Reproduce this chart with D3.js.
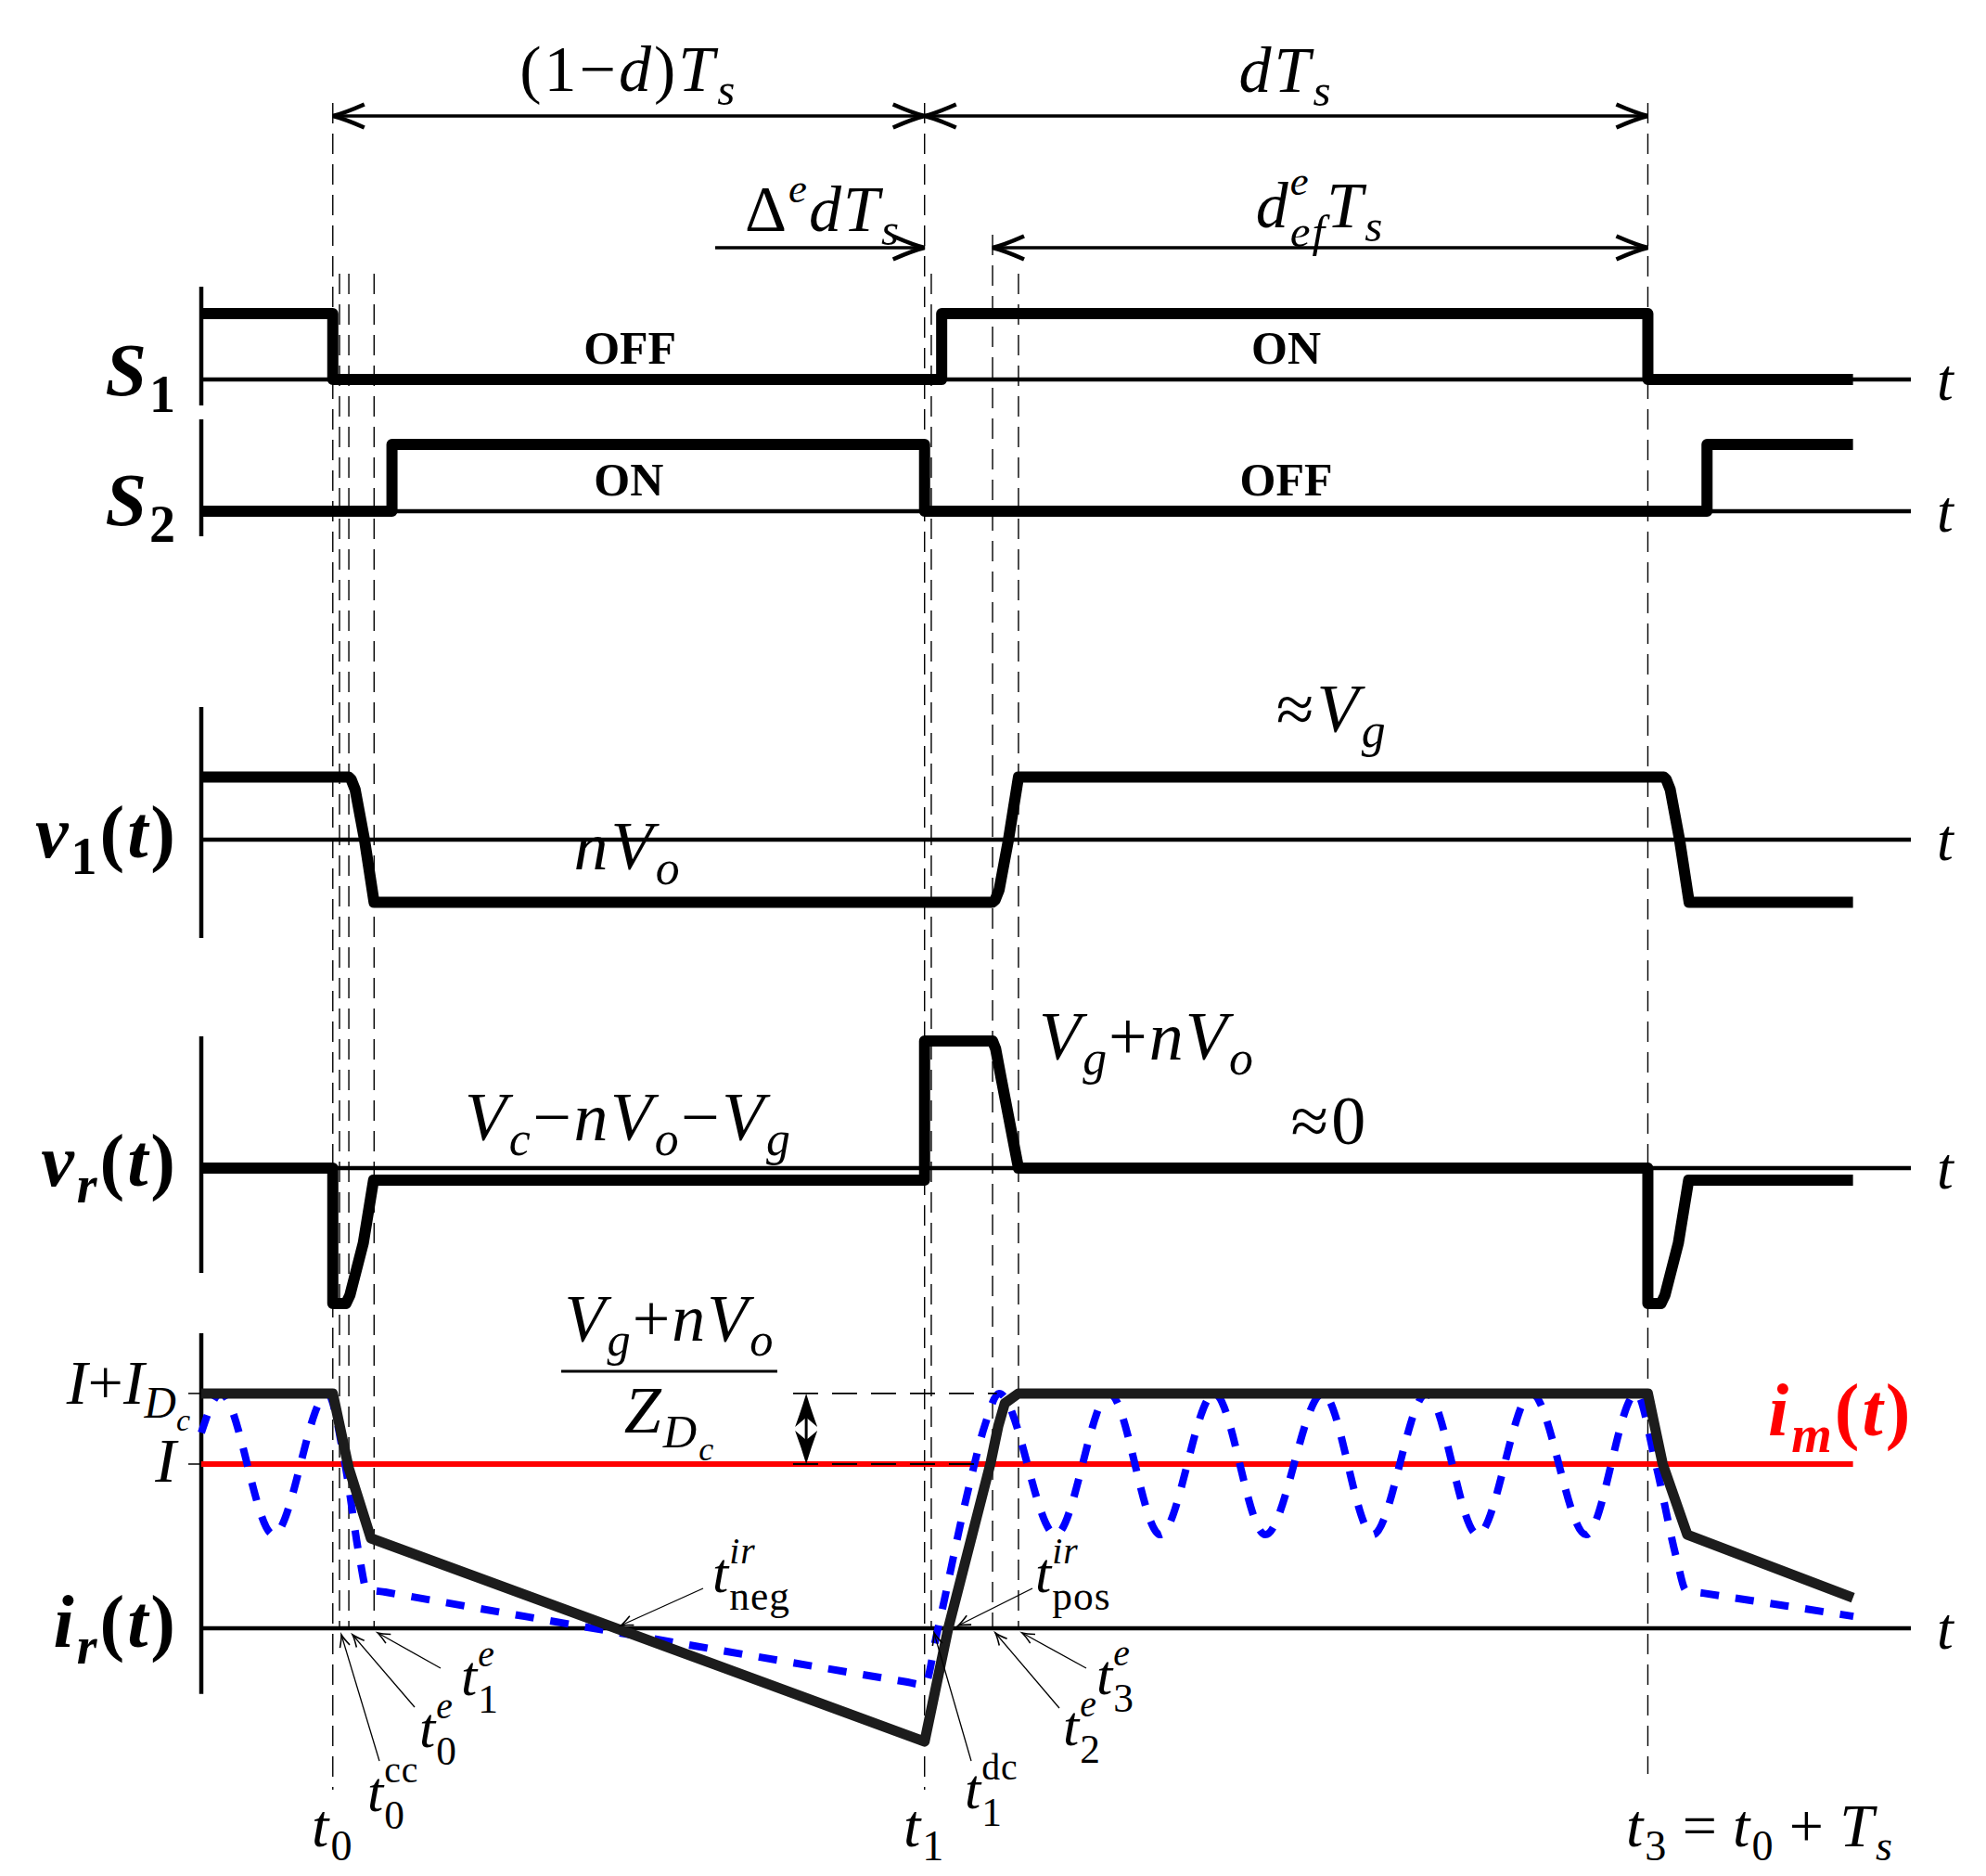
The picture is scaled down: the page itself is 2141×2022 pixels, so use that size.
<!DOCTYPE html>
<html>
<head>
<meta charset="utf-8">
<script src="https://cdn.jsdelivr.net/npm/d3@7/dist/d3.min.js"></script>
<style>
  body { margin: 0; background: #fff; }
</style>
</head>
<body>
<div id="chart"></div>
<script>
// time axis: tenths of Ts, t0 = 0, t3 = t0 + Ts = 10
const markNames = ['t0', 't0cc', 't0e', 't1e', 't1', 't1dc', 't2e', 't3e', 't3'];
const markTimes = [0, 0.051, 0.122, 0.314, 4.5, 4.551, 5.017, 5.214, 10];

// gate signals (0 = off, 1 = on)
const s1Time = [-1, 0, 0, 4.63, 4.63, 10, 10, 11.56];
const s1Val  = [1, 1, 0, 0, 1, 1, 0, 0];
const s2Time = [-1, 0.45, 0.45, 4.5, 4.5, 10.45, 10.45, 11.56];
const s2Val  = [0, 0, 1, 1, 0, 0, 1, 1];

// v1(t): +1 ~ Vg, -1 ~ -nVo
const v1Time = [-1, 0.122, 0.14, 0.17, 0.241, 0.314, 5.017, 5.037, 5.067, 5.138, 5.214, 10.122, 10.14, 10.17, 10.241, 10.314, 11.56];
const v1Val  = [1, 1, 0.96, 0.8, 0, -1, -1, -0.96, -0.8, 0, 1, 1, 0.96, 0.8, 0, -1, -1];

// vr(t): 1 = Vg+nVo
const vrTime = [-1, 0, 0, 0.1, 0.13, 0.232, 0.31, 4.5, 4.5, 5.017, 5.04, 5.08, 5.214, 10, 10, 10.1, 10.13, 10.232, 10.31, 11.56];
const vrVal  = [0, 0, -1.066, -1.066, -1.0, -0.59, -0.095, -0.095, 1, 1, 0.94, 0.72, 0, 0, -1.066, -1.066, -1.0, -0.59, -0.095, -0.095];

// ir(t), in units of I
const irTime = [-1, 0, 0.12, 0.29, 4.5, 4.68, 5.0, 5.06, 5.11, 5.214, 10, 10.113, 10.3, 11.56];
const irVal  = [1.43, 1.43, 0.98, 0.548, -0.69, 0, 1.0, 1.23, 1.37, 1.43, 1.43, 1.0, 0.57, 0.186];

// blue dashed current (with oscillation)
const irdTime = [-1, -0.852, -0.45, -0.041, 0.093, 0.206, 0.256, 0.4, 4.35, 4.5, 4.594, 4.84, 4.96, 5.066, 5.497, 5.906, 6.293, 6.703, 7.091, 7.528, 7.909, 8.318, 8.706, 9.115, 9.531, 9.912, 10.06, 10.22, 10.29, 10.42, 11.563];
const irdVal  = [1.19, 1.43, 0.57, 1.43, 1.0, 0.42, 0.24, 0.22, -0.325, -0.345, -0.03, 0.87, 1.24, 1.43, 0.57, 1.43, 0.57, 1.43, 0.57, 1.43, 0.57, 1.43, 0.57, 1.43, 0.57, 1.43, 1.0, 0.42, 0.23, 0.214, 0.073];

// magnetizing current i_m(t) = I
const imTime = [-1, 11.56];
const imVal  = [1, 1];

// ir axis ticks
const irTickVals = [1.43, 1];

const FONT = "'Liberation Serif','Times New Roman',serif";
const W = 2141, H = 2022;

const svg = d3.select('#chart').append('svg')
  .attr('width', W).attr('height', H)
  .style('background', '#fff');

const x = d3.scaleLinear().domain([-1, 12]).range([217, 2060]);
const yS1 = d3.scaleLinear().domain([0, 1]).range([409, 338]);
const yS2 = d3.scaleLinear().domain([0, 1]).range([551, 479]);
const yV1 = d3.scaleLinear().domain([-1, 1]).range([972.5, 837.5]);
const yVr = d3.scaleLinear().domain([0, 1]).range([1259, 1122]);
const yIr = d3.scaleLinear().domain([0, 1]).range([1755, 1578]);

const zip = (T, V) => T.map((t, i) => [t, V[i]]);
const lineFor = (ys, curve) => d3.line()
  .x(d => x(d[0])).y(d => ys(d[1]))
  .curve(curve || d3.curveLinear);

// math-ish text with sub/superscripts
function mtext(g, px, py, parts, o) {
  const fs = o.size;
  const t = g.append('text')
    .attr('x', px).attr('y', py)
    .attr('text-anchor', o.anchor || 'start')
    .attr('font-family', FONT)
    .attr('font-weight', o.bold ? 'bold' : 'normal')
    .attr('letter-spacing', o.ls || 0)
    .attr('fill', o.color || '#000');
  let cur = 0;
  function span(str, kind, dx, stacked) {
    let size = fs, off = 0;
    if (kind.startsWith('__')) { size = fs * 0.5; off = fs * 0.42; }
    else if (kind[0] === '_') { size = fs * 0.7; off = fs * (stacked ? 0.3 : 0.22); }
    else if (kind[0] === '^') { size = fs * 0.64; off = -fs * (stacked ? 0.5 : 0.45); }
    const it = kind.slice(-1) === 'i';
    const s = t.append('tspan').text(str)
      .attr('font-size', size)
      .attr('font-style', it ? 'italic' : 'normal')
      .attr('dy', off - cur);
    if (dx) s.attr('dx', dx);
    cur = off;
    return s;
  }
  parts.forEach(p => {
    if (p.length === 4) {
      const a = span(p[0], p[1], 0, true);
      const w = a.node().getComputedTextLength();
      span(p[2], p[3], -w, true);
    } else span(p[0], p[1]);
  });
  return t;
}

// curved chevron arrow tip
function chevron(g, px, py, deg, len, half, sw) {
  g.append('path')
    .attr('d', `M${-len},${half} Q${-len * 0.35},${half * 0.22} 0,0 Q${-len * 0.35},${-half * 0.22} ${-len},${-half}`)
    .attr('transform', `translate(${px},${py}) rotate(${deg})`)
    .attr('fill', 'none').attr('stroke', '#000')
    .attr('stroke-width', sw).attr('stroke-linejoin', 'miter');
}
function stealth(g, px, py, deg, len, half) {
  g.append('path')
    .attr('d', `M0,0 Q${-len * 0.5},${half * 0.45} ${-len},${half} L${-len * 0.72},0 L${-len},${-half} Q${-len * 0.5},${-half * 0.45} 0,0Z`)
    .attr('transform', `translate(${px},${py}) rotate(${deg})`)
    .attr('fill', '#000');
}

// ---------- dashed time markers ----------
const gDash = svg.append('g');
const markSpan = {
  t0: [111, 1929], t1: [111, 1929], t3: [111, 1912], t2e: [253, yIr(0)]
};
markNames.forEach((n, i) => {
  const sp = markSpan[n] || [295, yIr(0)];
  gDash.append('line')
    .attr('x1', x(markTimes[i])).attr('x2', x(markTimes[i]))
    .attr('y1', sp[0]).attr('y2', sp[1])
    .attr('stroke', '#000').attr('stroke-width', 1.4)
    .attr('stroke-dasharray', '22,11');
});
const T = n => markTimes[markNames.indexOf(n)];

// ---------- panels ----------
const panels = [
  { ys: yS1, ext: [-0.394, 1.408], label: [['S', 'i'], ['1', '_r']], ly: 426 },
  { ys: yS2, ext: [-0.375, 1.375], label: [['S', 'i'], ['2', '_r']], ly: 566 },
  { ys: yV1, ext: [-1.57, 2.12], label: [['v', 'i'], ['1', '_r'], ['(', 'r'], ['t', 'i'], [')', 'r']], ly: 924 },
  { ys: yVr, ext: [-0.825, 1.036], label: [['v', 'i'], ['r', '_i'], ['(', 'r'], ['t', 'i'], [')', 'r']], ly: 1278 },
  { ys: yIr, ext: [-0.40, 1.797], label: [['i', 'i'], ['r', '_i'], ['(', 'r'], ['t', 'i'], [')', 'r']], ly: 1775 }
];
const gAx = svg.append('g');
panels.forEach(p => {
  gAx.append('line')
    .attr('x1', x(-1)).attr('x2', x(-1))
    .attr('y1', p.ys(p.ext[0])).attr('y2', p.ys(p.ext[1]))
    .attr('stroke', '#000').attr('stroke-width', 4.5);
  gAx.append('line')
    .attr('x1', x(-1)).attr('x2', x(12))
    .attr('y1', p.ys(0)).attr('y2', p.ys(0))
    .attr('stroke', '#000').attr('stroke-width', 4.5);
  mtext(gAx, x(12) + 28, p.ys(0) + 22, [['t', 'i']], { size: 64 });
  mtext(gAx, 192, p.ly, p.label, { size: 80, bold: true, anchor: 'end', ls: 3 });
});

// ir ticks
irTickVals.forEach(v => {
  gAx.append('line')
    .attr('x1', x(-1) - 14).attr('x2', x(-1))
    .attr('y1', yIr(v)).attr('y2', yIr(v))
    .attr('stroke', '#000').attr('stroke-width', 1.5);
});
mtext(gAx, 205, 1513, [['I', 'i'], ['+', 'r'], ['I', 'i'], ['D', '_i'], ['c', '__i']], { size: 68, anchor: 'end' });
mtext(gAx, 190, 1597, [['I', 'i']], { size: 68, anchor: 'end' });

// ---------- waveforms ----------
const gW = svg.append('g').attr('fill', 'none');
const thick = (d, ys, color, w) => gW.append('path')
  .attr('d', lineFor(ys)(d))
  .attr('stroke', color).attr('stroke-width', w)
  .attr('stroke-linejoin', 'round');

thick(zip(s1Time, s1Val), yS1, '#000', 12);
thick(zip(s2Time, s2Val), yS2, '#000', 12);
thick(zip(v1Time, v1Val), yV1, '#000', 12);
thick(zip(vrTime, vrVal), yVr, '#000', 12);

// red i_m
gW.append('path').attr('d', lineFor(yIr)(zip(imTime, imVal)))
  .attr('stroke', '#ff0000').attr('stroke-width', 6);

// blue dashed
gW.append('path').attr('d', lineFor(yIr, d3.curveMonotoneX)(zip(irdTime, irdVal)))
  .attr('stroke', '#0000ff').attr('stroke-width', 8)
  .attr('stroke-dasharray', '20,18');

// ZDc guides
const gG = svg.append('g');
[[1.43, 3.5, 5.05], [1, 3.5, 4.9]].forEach(r => {
  gG.append('line')
    .attr('x1', x(r[1])).attr('x2', x(r[2]))
    .attr('y1', yIr(r[0])).attr('y2', yIr(r[0]))
    .attr('stroke', '#000').attr('stroke-width', 1.8)
    .attr('stroke-dasharray', '27,15');
});

// black ir
thick(zip(irTime, irVal), yIr, '#1c1c1c', 11);

// double arrow
const dax = x(3.6);
gG.append('line').attr('x1', dax).attr('x2', dax)
  .attr('y1', yIr(1.43) + 10).attr('y2', yIr(1) - 10)
  .attr('stroke', '#000').attr('stroke-width', 3);
stealth(gG, dax, yIr(1.43), -90, 36, 12);
stealth(gG, dax, yIr(1), 90, 36, 12);

// fraction
mtext(gG, x(2.562), 1445, [['V', 'i'], ['g', '_i'], ['+', 'r'], ['nV', 'i'], ['o', '_i']], { size: 72, anchor: 'middle', ls: 2 });
gG.append('line').attr('x1', x(1.737)).attr('x2', x(3.38))
  .attr('y1', 1478).attr('y2', 1478)
  .attr('stroke', '#000').attr('stroke-width', 3);
mtext(gG, x(2.562), 1544, [['Z', 'i'], ['D', '_i'], ['c', '__i']], { size: 72, anchor: 'middle', ls: 2 });

mtext(gG, 1906, 1547, [['i', 'i'], ['m', '_i'], ['(', 'r'], ['t', 'i'], [')', 'r']], { size: 80, bold: true, color: '#ff0000', ls: 3 });

// ---------- duration arrows ----------
const gA = svg.append('g');
const rowA = 125, rowB = 267;
function hArrow(y, t1, t2, headL, headR) {
  gA.append('line').attr('x1', x(t1)).attr('x2', x(t2))
    .attr('y1', y).attr('y2', y)
    .attr('stroke', '#000').attr('stroke-width', 3.5);
  if (headL) chevron(gA, x(t1), y, 180, 34, 12.5, 4.5);
  if (headR) chevron(gA, x(t2), y, 0, 34, 12.5, 4.5);
}
hArrow(rowA, T('t0'), T('t1'), true, true);
hArrow(rowA, T('t1'), T('t3'), true, true);
hArrow(rowB, 2.908, T('t1'), false, true);
hArrow(rowB, T('t2e'), T('t3'), true, true);

mtext(gA, x(2.25), 98, [['(1−', 'r'], ['d', 'i'], [')', 'r'], ['T', 'i'], ['s', '_i']], { size: 70, anchor: 'middle', ls: 3 });
mtext(gA, x(7.25), 99, [['dT', 'i'], ['s', '_i']], { size: 70, anchor: 'middle', ls: 3 });
mtext(gA, x(3.726), 249, [['Δ', 'r'], ['e', '^i'], ['dT', 'i'], ['s', '_i']], { size: 70, anchor: 'middle', ls: 2 });
mtext(gA, x(7.507), 245, [['d', 'i'], ['e', '^i', 'ef', '_i'], ['T', 'i'], ['s', '_i']], { size: 70, anchor: 'middle', ls: 2 });

// ---------- state labels ----------
const stateLabels = [
  ['OFF', 2.26, 392], ['ON', 7.25, 392], ['ON', 2.25, 534], ['OFF', 7.25, 534]
];
stateLabels.forEach(s => mtext(gA, x(s[1]), s[2], [[s[0], 'r']], { size: 50, bold: true, anchor: 'middle' }));

// ---------- voltage labels ----------
mtext(gA, x(7.6), 789, [['≈', 'r'], ['V', 'i'], ['g', '_i']], { size: 74, anchor: 'middle', ls: 3 });
mtext(gA, x(2.245), 937, [['nV', 'i'], ['o', '_i']], { size: 74, anchor: 'middle', ls: 3 });
mtext(gA, x(2.25), 1229, [['V', 'i'], ['c', '_i'], ['−', 'r'], ['nV', 'i'], ['o', '_i'], ['−', 'r'], ['V', 'i'], ['g', '_i']], { size: 74, anchor: 'middle', ls: 2.5 });
mtext(gA, 1120, 1142, [['V', 'i'], ['g', '_i'], ['+', 'r'], ['nV', 'i'], ['o', '_i']], { size: 74, ls: 2 });
mtext(gA, x(7.58), 1233, [['≈0', 'r']], { size: 74, anchor: 'middle', ls: 3 });

// ---------- annotations on ir ----------
const notes = [
  { tip: [x(T('t0cc')) + 2, 1762], tail: [409, 1898], at: [396, 1952], parts: [['t', 'i'], ['cc', '^r', '0', '_r']] },
  { tip: [x(T('t0e')) + 4, 1762], tail: [447, 1840], at: [452, 1883], parts: [['t', 'i'], ['e', '^i', '0', '_r']] },
  { tip: [x(T('t1e')) + 4, 1760], tail: [475, 1798], at: [497, 1827], parts: [['t', 'i'], ['e', '^i', '1', '_r']] },
  { tip: [x(2.19), 1752], tail: [758, 1712], at: [768, 1716], parts: [['t', 'i'], ['ir', '^i', 'neg', '_r']] },
  { tip: [x(4.756), 1752], tail: [1113, 1712], at: [1116, 1716], parts: [['t', 'i'], ['ir', '^i', 'pos', '_r']] },
  { tip: [x(T('t1dc')) + 3, 1760], tail: [1047, 1898], at: [1040, 1949], parts: [['t', 'i'], ['dc', '^r', '1', '_r']] },
  { tip: [x(T('t2e')) + 3, 1760], tail: [1142, 1841], at: [1146, 1881], parts: [['t', 'i'], ['e', '^i', '2', '_r']] },
  { tip: [x(T('t3e')) + 4, 1760], tail: [1171, 1798], at: [1182, 1826], parts: [['t', 'i'], ['e', '^i', '3', '_r']] }
];
const gN = svg.append('g');
notes.forEach(n => {
  gN.append('line')
    .attr('x1', n.tail[0]).attr('y1', n.tail[1])
    .attr('x2', n.tip[0]).attr('y2', n.tip[1])
    .attr('stroke', '#000').attr('stroke-width', 1.3);
  const deg = Math.atan2(n.tip[1] - n.tail[1], n.tip[0] - n.tail[0]) * 180 / Math.PI;
  chevron(gN, n.tip[0], n.tip[1], deg, 13, 5.5, 1.6);
  mtext(gN, n.at[0], n.at[1], n.parts, { size: 62, ls: 1 });
});

// bottom time labels
mtext(gN, x(T('t0')), 1990, [['t', 'i'], ['0', '_r']], { size: 66, anchor: 'middle', ls: 2 });
mtext(gN, x(T('t1')), 1990, [['t', 'i'], ['1', '_r']], { size: 66, anchor: 'middle', ls: 2 });
mtext(gN, 1753, 1990, [['t', 'i'], ['3', '_r'], ['\u2009=\u2009', 'r'], ['t', 'i'], ['0', '_r'], ['\u2009+\u2009', 'r'], ['T', 'i'], ['s', '_i']], { size: 66, ls: 2 });
</script>
</body>
</html>
